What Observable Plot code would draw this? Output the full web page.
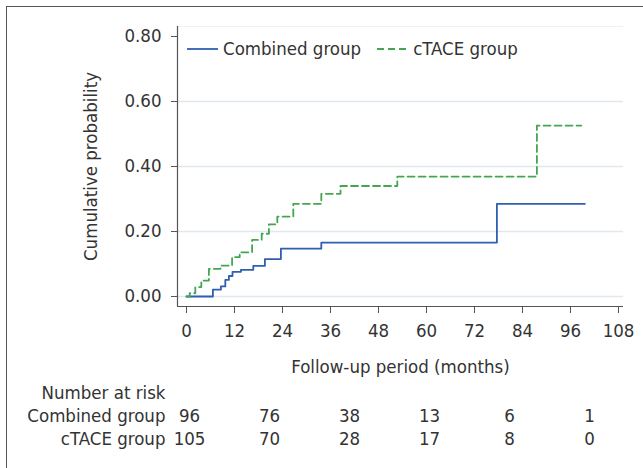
<!DOCTYPE html>
<html>
<head>
<meta charset="utf-8">
<script src="https://cdn.jsdelivr.net/npm/d3@7"></script>
<script src="https://cdn.jsdelivr.net/npm/@observablehq/plot@0.6"></script>
<style>
  html, body { margin: 0; padding: 0; background: #fff; }
  #wrap { position: relative; width: 643px; height: 468px; overflow: hidden; font-family: "DejaVu Sans Condensed", "DejaVu Sans", sans-serif; color: #333; }
  #frame { position: absolute; left: 6px; top: 6px; right: -4px; bottom: -4px; border-left: 1.5px solid #555; border-top: 1.5px solid #555; pointer-events: none; }
  #legend { position: absolute; left: 187px; top: 38px; display: flex; align-items: center; font-size: 18.5px; color: #333; white-space: nowrap; }
  #legend svg { display: block; }
  .item { display: flex; align-items: center; }
  .item span { margin-left: 5px; }
  .item + .item { margin-left: 16px; }
  svg { display: block; }
</style>
</head>
<body>
<div id="wrap">
  <div id="chart"></div>
  <div id="risk"></div>
  <div id="legend"></div>
  <div id="frame"></div>
</div>
<script>
// ---- Data ----
const seriesNames = ["Combined group", "cTACE group"];
const seriesColors = ["#2f5fb0", "#45a651"];

const combinedTime = [0, 6.6, 8.6, 9.7, 10.6, 11.5, 13.6, 16.7, 19.6, 23.6, 33.7, 77.6, 99.6];
const combinedProb = [0, 0.021, 0.031, 0.051, 0.063, 0.076, 0.082, 0.094, 0.115, 0.147, 0.166, 0.285, 0.285];

const ctaceTime = [0, 0.8, 2.2, 3.7, 5.6, 8.5, 11.4, 13.3, 16.4, 18.8, 20.6, 22.7, 26.7, 33.7, 38.5, 52.7, 87.6, 98.7];
const ctaceProb = [0, 0.010, 0.029, 0.049, 0.085, 0.095, 0.121, 0.136, 0.174, 0.193, 0.222, 0.246, 0.285, 0.316, 0.340, 0.369, 0.526, 0.526];

const xTicks = [0, 12, 24, 36, 48, 60, 72, 84, 96, 108];
const yTicks = [0, 0.2, 0.4, 0.6, 0.8];
const gridTicks = [0, 0.2, 0.4, 0.6];

const riskTimes = [0, 20, 40, 60, 80, 100];
const riskCombined = [96, 76, 38, 13, 6, 1];
const riskCtace = [105, 70, 28, 17, 8, 0];
const riskHeader = "Number at risk";

const xLabel = "Follow-up period (months)";
const yLabel = "Cumulative probability";

// ---- Build ----
const xDomain = [-2.25, 109.25];
const yDomain = [-0.0308, 0.8308];
const font = {fontFamily: "DejaVu Sans Condensed, DejaVu Sans, sans-serif", fontSize: "18.5px", color: "#333", background: "transparent"};

const combined = combinedTime.map((t, i) => ({t, p: combinedProb[i]}));
const ctace = ctaceTime.map((t, i) => ({t, p: ctaceProb[i]}));

const chart = Plot.plot({
  width: 643, height: 378,
  marginLeft: 177, marginRight: 20, marginTop: 26, marginBottom: 72,
  style: font,
  x: {domain: xDomain},
  y: {domain: yDomain},
  marks: [
    Plot.ruleY(gridTicks, {stroke: "#dfe8ee", strokeWidth: 1.3}),
    Plot.ruleY([yDomain[1]], {stroke: "#eef2f4", strokeWidth: 1}),
    Plot.line(combined, {x: "t", y: "p", curve: "step-after", stroke: seriesColors[0], strokeWidth: 1.8}),
    Plot.line(ctace, {x: "t", y: "p", curve: "step-after", stroke: seriesColors[1], strokeWidth: 1.8, strokeDasharray: "7,4"}),
    Plot.ruleX([xDomain[0]], {stroke: "#555", strokeWidth: 1.2}),
    Plot.ruleY([yDomain[0]], {stroke: "#555", strokeWidth: 1.2}),
    Plot.axisX({ticks: xTicks, tickFormat: d => String(d), tickSize: 7, tickPadding: 10, stroke: "#555",
      label: xLabel, labelAnchor: "center", labelArrow: "none", labelOffset: 66}),
    Plot.axisY({ticks: yTicks, tickFormat: d3.format(".2f"), tickSize: 6, tickPadding: 10, stroke: "#555",
      label: yLabel, labelAnchor: "center", labelArrow: "none", labelOffset: 94})
  ]
});
document.getElementById("chart").appendChild(chart);

// Risk table
const rows = [riskHeader, seriesNames[0], seriesNames[1]];
const riskData = [];
riskTimes.forEach((t, i) => {
  riskData.push({t, row: seriesNames[0], n: riskCombined[i]});
  riskData.push({t, row: seriesNames[1], n: riskCtace[i]});
});
const risk = Plot.plot({
  width: 643, height: 90,
  marginLeft: 177, marginRight: 20, marginTop: 15, marginBottom: 29,
  style: font,
  x: {domain: xDomain, axis: null},
  y: {type: "point", domain: rows, padding: 0, axis: null},
  marks: [
    Plot.text(rows, {x: () => xDomain[0], y: d => d, text: d => d, textAnchor: "end", dx: -12, fill: "#333"}),
    Plot.text(riskData, {x: "t", y: "row", text: d => String(d.n), dx: 3, fill: "#333"})
  ]
});
document.getElementById("risk").appendChild(risk);

// Legend
const legend = document.getElementById("legend");
seriesNames.forEach((name, i) => {
  const item = document.createElement("div");
  item.className = "item";
  const dash = i === 1 ? ' stroke-dasharray="7,4"' : '';
  item.innerHTML = `<svg width="31" height="6"><line x1="0" x2="31" y1="3" y2="3" stroke="${seriesColors[i]}" stroke-width="1.8"${dash}/></svg><span>${name}</span>`;
  legend.appendChild(item);
});
</script>
</body>
</html>
